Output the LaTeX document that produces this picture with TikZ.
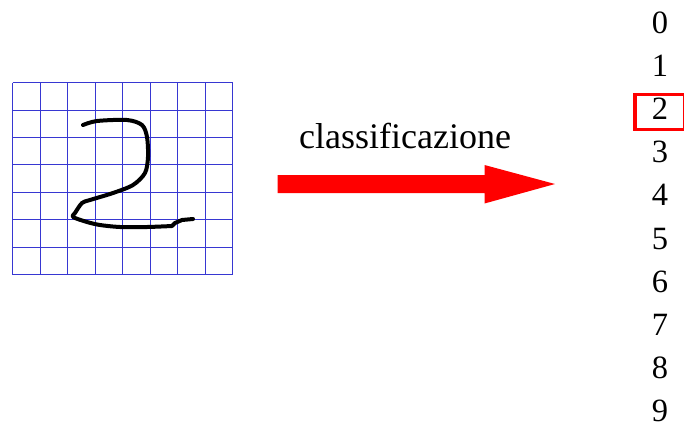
\documentclass[tikz,border=0pt]{standalone}
\usepackage{fontspec}
\setmainfont{Liberation Serif}
\definecolor{gridblue}{RGB}{55,55,210}
\definecolor{arrowred}{RGB}{255,0,0}
\begin{document}
\begin{tikzpicture}[x=1pt,y=-1pt,
  gridline/.style={draw=gridblue,line width=1.2pt},
  digit/.style={font=\fontsize{32.5}{34}\selectfont,anchor=base,inner sep=0pt},
  stroke/.style={draw=black,line width=4pt,line cap=round,line join=round},
  chosen/.style={draw=arrowred,line width=3.5pt}]
\useasboundingbox (0,0) rectangle (684,429);
% grid
\foreach \x in {12.5,40.5,67.5,95.5,122.5,150.5,177.5,205.5,232.5} {\draw[gridline] (\x,82.5) -- (\x,274.5);}
\foreach \y in {82.5,110.5,137.5,164.5,192.5,219.5,247.5,274.5} {\draw[gridline] (12.5,\y) -- (232.5,\y);}
% handwritten 2
\draw[stroke] plot[smooth,tension=0.5] coordinates {(83,125) (97,121) (127,120) (142,125) (147,137) (148,157) (145,173) (133,185) (113,193) (90,200) (82,203) (75,213) (73,217) (87,222) (100,225) (120,227) (147,227) (172,226)}
  -- (175,223) -- (182,220) -- (193,219);
% label
\node[font=\fontsize{36}{38}\selectfont,anchor=base,inner sep=0pt] (lab) at (405,148) {classificazione};
% arrow
\coordinate (a1) at (277.5,175);
\coordinate (a2) at (484.5,175);
\coordinate (a3) at (484.5,165);
\coordinate (tip) at (555,184);
\coordinate (a5) at (484.5,203.5);
\coordinate (a6) at (484.5,193);
\coordinate (a7) at (277.5,193);
\fill[arrowred] (a1) -- (a2) -- (a3) -- (tip) -- (a5) -- (a6) -- (a7) -- cycle;
% digits
\foreach \d in {0,...,9} {\node[digit] (d\d) at (660,{33.5+\d*43.1}) {\d};}
\draw[chosen] (635,94.5) rectangle (685,129.5);
\end{tikzpicture}
\end{document}
